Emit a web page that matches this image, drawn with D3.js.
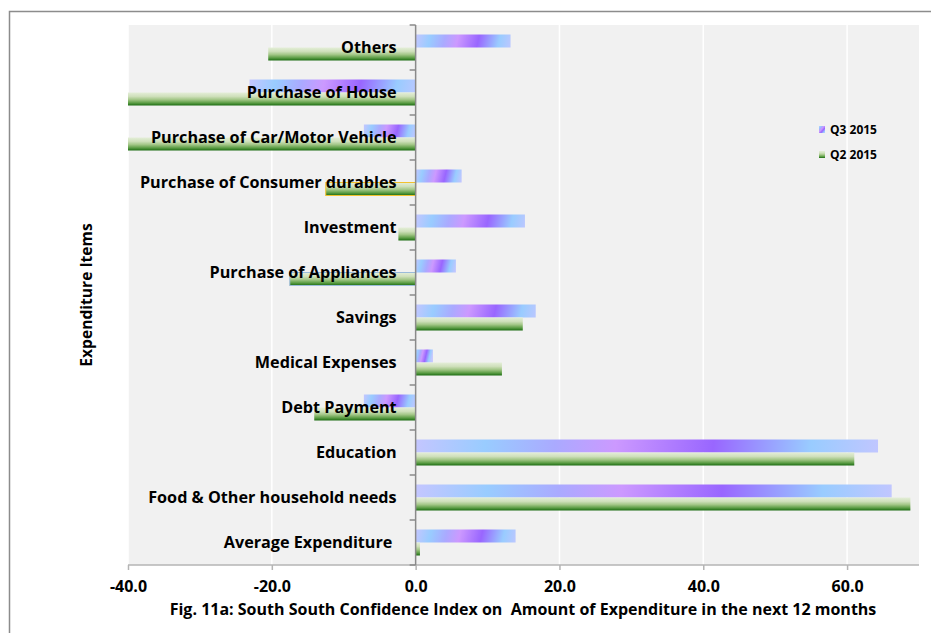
<!DOCTYPE html>
<html>
<head>
<meta charset="utf-8">
<script src="https://cdn.jsdelivr.net/npm/d3@7"></script>
<style>
  html, body { margin: 0; padding: 0; background: #ffffff; }
  svg { display: block; }
  text { font-family: "Open Sans", Lato, sans-serif; font-weight: 700; fill: #000; white-space: pre; }
</style>
</head>
<body>
<svg id="chart" width="931" height="633"></svg>
<script>
// Expenditure items, listed from bottom to top of the chart
const items = [
  "Average Expenditure ",
  "Food & Other household needs",
  "Education",
  "Debt Payment",
  "Medical Expenses",
  "Savings",
  "Purchase of Appliances",
  "Investment",
  "Purchase of Consumer durables",
  "Purchase of Car/Motor Vehicle",
  "Purchase of House",
  "Others"
];
const seriesNames = ["Q3 2015", "Q2 2015"];
const q3_2015 = [13.9, 66.2, 64.3, -7.2, 2.4, 16.7, 5.6, 15.2, 6.4, -7.2, -23.1, 13.2];
const q2_2015 = [0.6, 68.8, 61.0, -14.1, 12.0, 14.9, -17.5, -2.4, -12.5, -43.0, -44.0, -20.5];
const xTicks = [-40, -20, 0, 20, 40, 60];
const xDomain = [-40, 70];
const yTitle = "Expenditure Items";
const caption = "Fig. 11a: South South Confidence Index on  Amount of Expenditure in the next 12 months";

// a couple of bars carry a thin coloured outline
const outlineByItem = { "Purchase of Consumer durables": "#f2c12e", "Purchase of Appliances": "#9bbbd9" };

const svg = d3.select("#chart");
const plot = { left: 128, right: 919, top: 25, bottom: 565 };

// outer frame (top and left edges)
svg.append("path")
  .attr("d", "M9.5,633 V11.5 H931")
  .attr("fill", "none").attr("stroke", "#8c8c8c").attr("stroke-width", 1.5);

const x = d3.scaleLinear().domain(xDomain).range([plot.left, plot.right]);
const y = d3.scaleBand().domain(items.slice().reverse()).range([plot.top, plot.bottom]).padding(0);
const gap = 9.5;
const ySub = d3.scaleBand().domain(seriesNames).range([gap, y.bandwidth() - gap]).padding(0);

const defs = svg.append("defs");
defs.append("clipPath").attr("id", "plotClip")
  .append("rect")
  .attr("x", plot.left).attr("y", plot.top)
  .attr("width", plot.right - plot.left).attr("height", plot.bottom - plot.top);

// Q2: vertical green fade
const gGreen = defs.append("linearGradient").attr("id", "greenFill")
  .attr("x1", 0).attr("y1", 0).attr("x2", 0).attr("y2", 1);
[[0, "#e4eed8"], [0.3, "#cfe0bb"], [0.55, "#a2c686"], [0.8, "#5c9d45"], [1, "#1c6c12"]]
  .forEach(([o, c]) => gGreen.append("stop").attr("offset", o).attr("stop-color", c));

const q3Stops = [[0, "#c4c6ff"], [0.15, "#99ccff"], [0.3, "#aaaaff"], [0.43, "#cc99ff"],
                 [0.64, "#9966ff"], [0.85, "#99ccff"], [1, "#c2c6ff"]];

// background
svg.append("rect")
  .attr("x", plot.left).attr("y", plot.top)
  .attr("width", plot.right - plot.left).attr("height", plot.bottom - plot.top)
  .attr("fill", "#f1f1f1");

// vertical gridlines
svg.append("g").selectAll("line")
  .data(xTicks.filter(t => t !== 0))
  .join("line")
  .attr("x1", d => x(d)).attr("x2", d => x(d))
  .attr("y1", plot.top).attr("y2", plot.bottom)
  .attr("stroke", "#ffffff").attr("stroke-width", 1.5);

// bar records
const bars = [];
items.forEach((it, i) => {
  bars.push({ item: it, series: "Q3 2015", value: q3_2015[i] });
  bars.push({ item: it, series: "Q2 2015", value: q2_2015[i] });
});
bars.forEach((b, i) => {
  b.x0 = x(Math.min(0, b.value));
  b.x1 = x(Math.max(0, b.value));
  b.y0 = y(b.item) + ySub(b.series);
  b.h = ySub.bandwidth();
  if (b.series === "Q3 2015") {
    // diagonal multicolour fill, one gradient per bar
    const w = Math.max(b.x1 - b.x0, 1);
    const g = defs.append("linearGradient").attr("id", "q3fill" + i)
      .attr("gradientUnits", "userSpaceOnUse")
      .attr("x1", b.x0).attr("y1", b.y0)
      .attr("x2", b.x0 + w).attr("y2", b.y0 + Math.min(w * 0.23, 40));
    q3Stops.forEach(([o, c]) => g.append("stop").attr("offset", o).attr("stop-color", c));
    b.fill = "url(#q3fill" + i + ")";
  } else {
    b.fill = "url(#greenFill)";
  }
});

svg.append("g").attr("clip-path", "url(#plotClip)")
  .selectAll("rect").data(bars).join("rect")
  .attr("x", d => d.x0).attr("y", d => d.y0)
  .attr("width", d => d.x1 - d.x0).attr("height", d => d.h)
  .attr("fill", d => d.fill)
  .attr("stroke", d => (d.series === "Q2 2015" && outlineByItem[d.item]) || "none")
  .attr("stroke-width", 1);

// x axis
const xAxis = svg.append("g").attr("transform", `translate(0,${plot.bottom})`)
  .call(d3.axisBottom(x).tickValues(xTicks).tickFormat(d => d.toFixed(1)).tickSize(5).tickPadding(11).tickSizeOuter(0));
xAxis.select(".domain").attr("stroke", "#b4b4b4").attr("stroke-width", 1.5)
  .attr("d", `M${plot.left},0H${plot.right}`);
xAxis.selectAll(".tick line").attr("stroke", "#b4b4b4").attr("stroke-width", 1.5);
xAxis.selectAll(".tick text").attr("font-size", 16).attr("font-family", null).attr("fill", "#000");

// y axis at zero with ticks at category boundaries
const yAxisG = svg.append("g").attr("transform", `translate(${x(0)},0)`);
yAxisG.append("line")
  .attr("x1", 0).attr("x2", 0).attr("y1", plot.top).attr("y2", plot.bottom)
  .attr("stroke", "#8a8a8a").attr("stroke-width", 1.5);
yAxisG.selectAll("line.tk").data(d3.range(items.length + 1)).join("line")
  .attr("class", "tk")
  .attr("x1", -6).attr("x2", 0)
  .attr("y1", d => plot.top + d * y.step()).attr("y2", d => plot.top + d * y.step())
  .attr("stroke", "#8a8a8a").attr("stroke-width", 1.5);

// category labels, drawn over the bars
svg.append("g").selectAll("text").data(items).join("text")
  .attr("x", x(0) - 19)
  .attr("y", d => y(d) + y.bandwidth() / 2)
  .attr("dy", "0.36em")
  .attr("text-anchor", "end")
  .attr("font-size", 16.2)
  .text(d => d);

// y axis title
svg.append("text")
  .attr("transform", "translate(92,295) rotate(-90)")
  .attr("text-anchor", "middle")
  .attr("font-size", 15.6)
  .text(yTitle);

// caption under the x axis
svg.append("text")
  .attr("x", 523).attr("y", 615)
  .attr("text-anchor", "middle")
  .attr("font-size", 16)
  .text(caption);

// legend
const legend = svg.append("g");
const legendRows = [
  { name: "Q3 2015", fill: "url(#legendQ3)", y: 130 },
  { name: "Q2 2015", fill: "url(#greenFill)", y: 155 }
];
const lg = defs.append("linearGradient").attr("id", "legendQ3")
  .attr("x1", 0).attr("y1", 0).attr("x2", 1).attr("y2", 1);
q3Stops.forEach(([o, c]) => lg.append("stop").attr("offset", o).attr("stop-color", c));
legendRows.forEach(r => {
  legend.append("rect").attr("x", 819).attr("y", r.y - 4).attr("width", 6).attr("height", 7).attr("fill", r.fill);
  legend.append("text").attr("x", 830).attr("y", r.y).attr("dy", "0.35em")
    .attr("font-size", 12).text(r.name);
});
</script>
</body>
</html>
